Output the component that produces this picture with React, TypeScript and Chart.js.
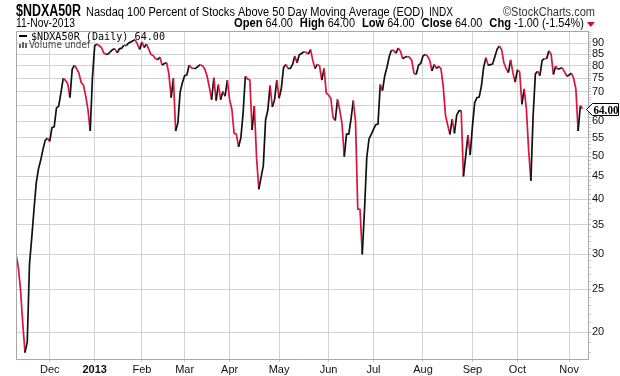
import React, { useEffect, useRef } from 'react';
import { Chart, registerables } from 'chart.js';

Chart.register(...registerables);

// Daily closes, one per trading day from 9-Nov-2012 to 11-Nov-2013
const values: number[] = [
  30.0, 28.1, 25.0, 21.0, 18.0, 19.0, 28.5, 32.7, 37.9, 43.5,
  46.8, 49.0, 51.8, 54.3, 54.9, 54.0, 58.0, 58.3, 64.3, 64.9,
  69.6, 75.0, 74.2, 72.9, 67.8, 78.6, 80.3, 78.8, 77.0, 73.3,
  72.4, 68.4, 63.7, 57.0, 75.3, 88.8, 89.6, 88.8, 88.0, 85.6,
  84.9, 85.1, 86.2, 87.1, 87.4, 85.6, 87.4, 87.7, 89.1, 88.8,
  90.0, 90.6, 91.2, 91.6, 89.6, 87.1, 90.6, 88.0, 89.6, 87.4,
  84.9, 84.4, 83.1, 82.6, 83.7, 80.3, 81.0, 81.3, 76.7, 67.8,
  75.0, 57.0, 59.5, 69.8, 73.3, 76.0, 76.3, 80.3, 79.2, 78.9,
  79.0, 79.8, 80.5, 80.0, 78.6, 75.8, 71.5, 67.1, 75.2, 66.8,
  72.6, 67.1, 70.0, 68.3, 74.3, 67.1, 63.9, 56.3, 56.1, 52.5,
  55.0, 62.5, 75.8, 74.7, 74.3, 57.3, 64.9, 49.5, 42.1, 44.8,
  47.6, 60.4, 63.5, 72.2, 64.6, 67.1, 74.3, 67.6, 71.1, 79.3,
  80.6, 78.9, 78.9, 80.6, 84.2, 81.3, 84.7, 85.3, 86.1, 85.9,
  85.0, 87.1, 82.3, 78.9, 80.6, 80.0, 74.3, 78.9, 69.4, 68.7,
  67.6, 61.2, 60.2, 67.2, 63.5, 59.2, 49.9, 56.1, 56.1, 60.6,
  66.8, 60.0, 38.0, 37.9, 30.0, 37.8, 49.6, 54.7, 56.0, 57.5,
  58.9, 59.1, 72.6, 70.3, 76.0, 79.4, 84.0, 86.9, 86.6, 85.4,
  87.8, 86.3, 83.0, 83.7, 84.0, 83.7, 82.3, 77.0, 76.5, 80.3,
  81.0, 84.2, 84.9, 84.2, 82.3, 77.9, 80.6, 78.9, 79.8, 78.8,
  72.0, 61.9, 58.8, 56.0, 60.6, 56.3, 61.9, 63.3, 63.4, 45.0,
  50.0, 55.8, 50.3, 58.4, 66.0, 67.8, 68.0, 72.1, 79.5, 83.5,
  80.2, 80.5, 80.8, 84.0, 87.3, 88.7, 87.0, 81.3, 78.8, 77.2,
  82.5, 77.1, 73.5, 78.4, 77.5, 65.5, 71.0, 63.9, 51.6, 44.0,
  61.9, 76.7, 77.8, 76.0, 82.3, 83.1, 83.0, 86.5, 85.0, 76.5,
  79.8, 78.6, 78.9, 79.2, 77.4, 75.8, 76.3, 77.0, 75.0, 71.0,
  57.0, 65.0, 64.0,
];

// First trading day of each month (index into values) and its label
const monthTickIndex = [15, 35, 56, 75, 95, 117, 139, 159, 181, 203, 223, 246];
const monthTickLabels = ['Dec', '2013', 'Feb', 'Mar', 'Apr', 'May', 'Jun', 'Jul', 'Aug', 'Sep', 'Oct', 'Nov'];

const yTickValues = [20, 25, 30, 35, 40, 45, 50, 55, 60, 65, 70, 75, 80, 85, 90];
const yTickLabels = ['20', '25', '30', '35', '40', '45', '50', '55', '60', '', '70', '75', '80', '85', '90'];
const yMinorValues = [18, 19, 21, 22, 23, 24, 26, 27, 28, 29, 31, 32, 33, 34, 36, 37, 38, 39, 41, 42, 43, 44,
  46, 47, 48, 49, 51, 52, 53, 54, 56, 57, 58, 59, 61, 62, 63, 64, 66, 67, 68, 69, 71, 72, 73, 74,
  76, 77, 78, 79, 81, 82, 83, 84, 86, 87, 88, 89, 91, 92, 93, 94, 95];

const symbolText = '$NDXA50R';
const titleText = 'Nasdaq 100 Percent of Stocks Above 50 Day Moving Average (EOD)';
const exchangeText = 'INDX';
const creditText = '\u00A9StockCharts.com';
const dateText = '11-Nov-2013';
const quoteFields: [string, string][] = [
  ['Open', '64.00'], ['High', '64.00'], ['Low', '64.00'], ['Close', '64.00'], ['Chg', '-1.00 (-1.54%)'],
];
const legendText = '$NDXA50R (Daily) 64.00';
const volumeText = 'Volume undef';
const lastText = '64.00';

const RED = '#dc143c';
const BLACK = '#111111';
const SANS = '"Liberation Sans", Arial, sans-serif';

function fitText(ctx: CanvasRenderingContext2D, text: string, x: number, y: number, w?: number) {
  const m = ctx.measureText(text).width;
  ctx.save();
  ctx.translate(x, y);
  if (w && m > 0) ctx.scale(w / m, 1);
  ctx.fillText(text, 0, 0);
  ctx.restore();
  return w || m;
}

const decorPlugin = {
  id: 'decor',
  afterDraw(chart: any) {
    const ctx: CanvasRenderingContext2D = chart.ctx;
    const area = chart.chartArea;
    const yScale = chart.scales.y;
    ctx.save();
    // left and top frame lines
    ctx.strokeStyle = '#a8a8a8';
    ctx.lineWidth = 1;
    ctx.beginPath();
    ctx.moveTo(Math.round(area.left) + 0.5, Math.round(area.bottom));
    ctx.lineTo(Math.round(area.left) + 0.5, Math.round(area.top) + 0.5);
    ctx.lineTo(Math.round(area.right), Math.round(area.top) + 0.5);
    ctx.stroke();

    ctx.textBaseline = 'alphabetic';
    ctx.textAlign = 'left';
    // header row 1
    ctx.fillStyle = '#000';
    ctx.font = 'bold 16px ' + SANS;
    fitText(ctx, symbolText, 16, 16, 65);
    ctx.font = '12px ' + SANS;
    fitText(ctx, titleText, 86, 16, 338);
    fitText(ctx, exchangeText, 429, 16, 24);
    ctx.fillStyle = '#333';
    fitText(ctx, creditText, 503, 16, 92);

    // header row 2
    ctx.fillStyle = '#000';
    ctx.font = '12px ' + SANS;
    fitText(ctx, dateText, 16, 27, 59);
    let x = 234;
    quoteFields.forEach(([k, v]) => {
      ctx.font = 'bold 12px ' + SANS;
      const kw = ctx.measureText(k).width * 0.93;
      fitText(ctx, k, x, 27, kw);
      x += kw + 3;
      ctx.font = '12px ' + SANS;
      const vw = ctx.measureText(v).width * 0.91;
      fitText(ctx, v, x, 27, vw);
      x += vw + 7;
    });
    // red down triangle
    ctx.fillStyle = '#c8102e';
    ctx.beginPath();
    ctx.moveTo(x - 4, 22);
    ctx.lineTo(x + 4, 22);
    ctx.lineTo(x, 27);
    ctx.closePath();
    ctx.fill();

    // legend
    ctx.fillStyle = '#000';
    ctx.fillRect(19, 35, 8, 2);
    ctx.font = '10px "DejaVu Sans Mono", monospace';
    fitText(ctx, legendText, 31, 39.5, 134);
    ctx.fillStyle = '#666';
    ctx.fillRect(19, 44, 2, 4);
    ctx.fillRect(22, 42, 2, 6);
    ctx.fillRect(25, 43, 2, 5);
    ctx.fillStyle = '#444';
    ctx.font = '11px "DejaVu Sans", sans-serif';
    fitText(ctx, volumeText, 29, 48, 61);

    // last value box
    const last = values[values.length - 1];
    const py = Math.round(yScale.getPixelForValue(last)) + 0.5;
    const bx = Math.round(area.right) - 1.5;
    ctx.beginPath();
    ctx.moveTo(bx, py);
    ctx.lineTo(bx + 6, py - 6);
    ctx.lineTo(618.5, py - 6);
    ctx.lineTo(618.5, py + 6);
    ctx.lineTo(bx + 6, py + 6);
    ctx.closePath();
    ctx.fillStyle = '#fff';
    ctx.fill();
    ctx.strokeStyle = '#000';
    ctx.lineWidth = 1;
    ctx.stroke();
    ctx.fillStyle = '#000';
    ctx.font = 'bold 12px "Liberation Serif", serif';
    fitText(ctx, lastText, bx + 7, py + 4.5, 25);
    ctx.restore();
  },
};

export default function App() {
  const ref = useRef<HTMLCanvasElement | null>(null);
  useEffect(() => {
    if (!ref.current) return;
    const majorSet = new Set(yTickValues);
    const chart = new Chart(ref.current, {
      type: 'line',
      data: {
        datasets: [
          {
            data: values.map((v, i) => ({ x: i, y: v })),
            borderColor: BLACK,
            borderWidth: 1.7,
            pointRadius: 0,
            tension: 0,
            segment: {
              borderColor: (c: any) => (c.p1.parsed.y < c.p0.parsed.y ? RED : BLACK),
            },
          },
        ],
      },
      options: {
        animation: false,
        responsive: false,
        devicePixelRatio: 1,
        events: [],
        layout: { padding: { left: 16, top: 31, right: 0, bottom: 0 } },
        plugins: { legend: { display: false }, tooltip: { enabled: false } },
        scales: {
          x: {
            type: 'linear',
            bounds: 'data',
            min: 0,
            max: 254.4,
            afterBuildTicks: (s: any) => {
              s.ticks = monthTickIndex.map((v) => ({ value: v }));
            },
            afterFit: (s: any) => {
              s.height = 17;
            },
            ticks: {
              autoSkip: false,
              maxRotation: 0,
              padding: 1,
              color: '#111',
              font: (c: any) => ({
                family: SANS,
                size: 11,
                weight: c.tick && c.tick.value === 35 ? 'bold' : 'normal',
              }),
              callback: (v: any) => {
                const k = monthTickIndex.indexOf(Number(v));
                return k >= 0 ? monthTickLabels[k] : '';
              },
            },
            grid: { color: '#d3d3d3', tickColor: '#c8c8c8', tickLength: 3 },
            border: { display: true, color: '#a8a8a8' },
          },
          y: {
            type: 'logarithmic',
            position: 'right',
            bounds: 'data',
            min: 17.41,
            max: 95.9,
            afterBuildTicks: (s: any) => {
              const all = [...yTickValues, ...yMinorValues].sort((a, b) => a - b);
              s.ticks = all.map((v) => ({ value: v, major: majorSet.has(v) }));
            },
            afterFit: (s: any) => {
              s.width = 32;
            },
            ticks: {
              autoSkip: false,
              padding: 1,
              color: '#111',
              font: { family: SANS, size: 11 },
              callback: (v: any) => {
                const k = yTickValues.indexOf(Number(v));
                return k >= 0 ? yTickLabels[k] : '';
              },
            },
            grid: {
              color: (c: any) => (c.tick && majorSet.has(c.tick.value) ? '#d3d3d3' : 'rgba(0,0,0,0)'),
              tickColor: (c: any) => (c.tick && majorSet.has(c.tick.value) ? '#c0c0c0' : '#c8c8c8'),
              tickLength: 3,
            },
            border: { display: true, color: '#a8a8a8' },
          },
        },
      },
      plugins: [decorPlugin],
    } as any);
    return () => chart.destroy();
  }, []);
  return (
    <div style={{ position: 'absolute', left: 0, top: 0, width: 620, height: 376, background: '#fff' }}>
      <canvas ref={ref} width={620} height={376} />
    </div>
  );
}
